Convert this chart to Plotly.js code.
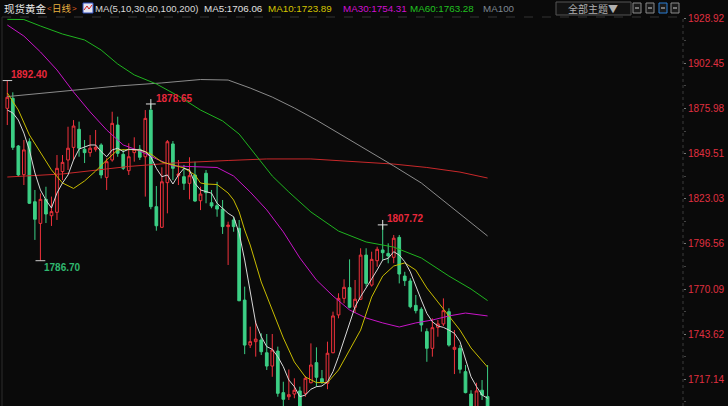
<!DOCTYPE html>
<html><head><meta charset="utf-8">
<script src="https://cdn.plot.ly/plotly-3.0.1.min.js"></script>
<style>html,body{margin:0;padding:0;background:#0a0a0a;overflow:hidden}#chart{width:728px;height:406px;}</style>
</head><body><div id="chart"></div>
<script>
// ---- OHLC (daily candles, oldest -> newest) ----
const openP  = [1876.1,1882.0,1854.0,1837.2,1856.5,1821.3,1808.6,1822.7,1813.1,1815.1,1839.0,1845.8,1853.2,1863.8,1852.1,1850.1,1852.1,1854.6,1835.6,1845.8,1866.3,1849.1,1839.5,1850.1,1852.1,1847.7,1875.1,1818.4,1806.3,1832.5,1855.2,1836.6,1836.0,1832.1,1837.0,1821.9,1838.0,1820.7,1819.0,1817.0,1806.7,1810.6,1805.7,1763.6,1737.2,1739.2,1740.2,1732.7,1724.9,1733.7,1709.3,1706.9,1708.5,1710.3,1708.9,1715.1,1726.9,1717.5,1714.8,1732.7,1754.9,1764.6,1770.9,1759.4,1764.1,1790.0,1772.4,1786.7,1793.0,1791.0,1788.7,1800.4,1777.7,1774.8,1760.5,1758.2,1745.1,1735.3,1747.6,1749.6,1756.8,1734.7,1735.3,1721.6,1708.5,1700.0,1710.7,1707.0];
const highP  = [1892.4,1885.5,1854.6,1857.5,1858.5,1828.2,1826.2,1830.1,1824.3,1848.7,1848.7,1865.3,1869.2,1868.3,1857.5,1860.4,1863.4,1855.6,1846.8,1874.1,1871.2,1852.1,1855.6,1859.1,1854.6,1875.1,1878.65,1830.5,1841.5,1857.5,1856.9,1845.8,1842.9,1847.4,1844.8,1830.1,1839.9,1828.2,1833.0,1822.3,1809.6,1812.5,1810.6,1771.5,1748.0,1751.5,1744.1,1743.7,1743.7,1736.3,1715.7,1722.9,1717.7,1712.8,1719.1,1738.2,1735.9,1722.6,1739.2,1756.8,1767.6,1775.8,1787.5,1775.4,1794.0,1794.0,1792.0,1794.9,1807.72,1796.9,1801.8,1801.8,1780.2,1776.4,1766.6,1759.4,1747.0,1752.9,1751.9,1764.6,1758.8,1746.0,1737.2,1725.5,1710.7,1715.1,1716.7,1725.5];
const lowP   = [1866.3,1851.7,1836.0,1831.1,1820.0,1798.9,1786.7,1808.8,1807.1,1810.6,1834.0,1839.9,1845.8,1847.7,1844.0,1847.7,1850.7,1835.0,1828.2,1844.8,1847.7,1839.9,1837.0,1844.8,1845.8,1824.3,1816.9,1804.3,1806.0,1814.5,1834.0,1831.1,1828.2,1822.7,1821.3,1816.4,1820.4,1817.5,1812.5,1802.4,1784.2,1803.7,1763.0,1731.9,1735.5,1730.4,1731.4,1722.6,1718.6,1706.9,1700.5,1705.0,1706.0,1695.0,1706.9,1714.8,1712.8,1714.4,1711.3,1732.4,1752.9,1761.7,1758.8,1756.2,1763.6,1771.5,1771.5,1783.2,1787.1,1785.2,1785.2,1773.4,1771.9,1758.8,1755.8,1745.1,1727.4,1730.4,1742.1,1748.4,1736.3,1720.2,1720.6,1708.9,1698.0,1698.0,1705.0,1698.0];
const closeP = [1882.6,1853.2,1837.0,1851.7,1820.4,1811.0,1822.7,1814.1,1815.5,1840.9,1844.4,1852.7,1865.7,1852.7,1850.1,1852.7,1853.2,1837.0,1844.8,1867.3,1849.7,1840.9,1847.7,1852.1,1847.4,1870.2,1818.4,1807.2,1833.0,1856.5,1840.9,1837.6,1832.1,1836.6,1821.7,1825.8,1826.6,1818.8,1817.0,1806.7,1807.6,1806.7,1763.2,1737.2,1739.2,1740.7,1733.3,1724.9,1734.3,1708.9,1705.4,1708.1,1710.7,1699.0,1717.7,1725.5,1718.3,1715.5,1732.4,1754.3,1764.6,1771.1,1759.4,1764.1,1790.0,1773.4,1787.5,1793.4,1791.4,1789.5,1799.9,1778.9,1775.0,1759.7,1757.4,1749.0,1735.3,1747.4,1749.6,1757.4,1737.2,1735.9,1723.0,1709.3,1700.0,1710.3,1707.9,1701.0];

// ---- moving averages ----
const ma5 = [1875.1,1873.4,1869.2,1861.6,1851.7,1838.2,1828.2,1822.3,1817.6,1826.4,1832.3,1837.0,1845.8,1852.2,1853.4,1854.6,1854.6,1850.7,1847.7,1851.7,1852.7,1850.7,1852.1,1851.7,1851.7,1850.7,1847.7,1840.9,1836.0,1837.0,1831.7,1837.0,1840.9,1839.9,1832.1,1828.2,1827.2,1826.3,1820.4,1817.5,1814.5,1812.5,1802.8,1787.1,1769.5,1750.2,1742.1,1736.3,1734.7,1730.4,1724.5,1716.7,1712.8,1706.9,1707.9,1711.3,1712.8,1713.2,1715.7,1721.6,1730.4,1740.2,1750.9,1759.7,1765.6,1770.5,1776.0,1781.3,1787.1,1788.1,1792.0,1790.0,1786.1,1780.2,1771.5,1763.6,1755.8,1750.9,1748.4,1747.6,1746.0,1744.1,1739.2,1728.4,1718.6,1712.8,1707.9,1706.0];
const ma10Idx = [0,2,4,6,8,10,12,14,16,18,20,22,24,26,28,30,32,34,35,36,38,40,41,42,43,44,46,48,50,52,54,56,58,60,62,64,66,68,70,72,74,76,78,80,82,84,87];
const ma10Val = [1885.1,1875.1,1860.5,1849.9,1840.0,1832.3,1829.1,1833.5,1839.3,1845.8,1851.7,1851.9,1851.7,1849.3,1844.6,1842.9,1841.1,1837.0,1832.3,1831.7,1831.4,1826.4,1822.3,1815.3,1804.7,1795.9,1774.2,1757.8,1741.4,1727.3,1718.5,1715.2,1715.2,1722.6,1734.3,1746.0,1765.4,1777.7,1783.6,1785.4,1781.2,1770.7,1762.5,1754.3,1746.0,1735.5,1724.3];
const ma30Idx = [0,3,6,9,12,15,18,21,24,27,30,35,38,41,44,47,50,53,56,59,62,65,68,71,74,77,80,83,87];
const ma30Val = [1925.0,1918.5,1909.2,1898.6,1885.7,1874.0,1863.4,1854.6,1851.1,1846.4,1842.3,1841.5,1841.4,1836.4,1827.0,1816.5,1803.6,1788.3,1775.4,1766.0,1757.8,1753.1,1750.2,1747.8,1750.2,1751.9,1754.3,1756.0,1754.3];
const ma60Idx = [0,3,6,10,14,17,20,23,27,31,35,39,42,44,46,48,51,55,60,65,70,75,80,84,87];
const ma60Val = [1928.3,1928.2,1924.4,1919.7,1916.2,1910.3,1902.1,1895.7,1890.4,1883.3,1875.1,1868.7,1861.0,1852.8,1844.6,1836.4,1827.0,1815.3,1804.1,1797.7,1794.7,1788.3,1777.7,1770.1,1763.3];
const ma100Idx = [0,10,20,28,35,40,44,48,52,56,60,65,70,75,80,87];
const ma100Val = [1883.0,1886.3,1889.2,1891.0,1893.0,1892.7,1888.0,1882.7,1876.3,1869.2,1861.6,1851.7,1842.3,1832.3,1819.4,1801.2];
const ma200Idx = [0,10,22,30,40,47,55,62,70,76,82,87];
const ma200Val = [1835.8,1837.6,1842.0,1844.0,1845.5,1846.4,1846.4,1845.2,1843.4,1841.4,1838.7,1835.2];

// ---- axis ticks and header texts ----
const yTicks = [1717.14,1743.62,1770.09,1796.56,1823.03,1849.51,1875.98,1902.45,1928.92];
const yTickText = ["1717.14","1743.62","1770.09","1796.56","1823.03","1849.51","1875.98","1902.45","1928.92"];
const maLegend = ["MA5:1706.06","MA10:1723.89","MA30:1754.31","MA60:1763.28","MA100"];
const extremeIdx = {hi1:0, hi2:26, hi3:68, lo1:6};

const xs = openP.map((_, i) => i);
const W = 728, H = 406, ML = 2, MR = 45, MT = 16, MB = 0;
const PW = W - ML - MR, PH = H - MT - MB;
const px = x => (x - ML) / PW;
const py = y => (H - MB - y) / PH;

const RED = '#f0323c', GREEN = '#3ccf85', BG = '#0a0a0a';
const FONT = 'Liberation Sans, Arial, sans-serif';
const CJK = 'Noto Sans CJK SC, sans-serif';

function maTrace(xv, yv, color) {
  return {type:'scatter', mode:'lines', x:xv, y:yv, line:{color:color, width:1}, hoverinfo:'skip'};
}

const traces = [
  maTrace(ma200Idx, ma200Val, '#c8282a'),
  maTrace(ma100Idx, ma100Val, '#8a8a8a'),
  maTrace(ma60Idx, ma60Val, '#1fb41f'),
  maTrace(ma30Idx, ma30Val, '#c814c8'),
  {
    type:'candlestick', x:xs, open:openP, high:highP, low:lowP, close:closeP,
    increasing:{line:{color:RED, width:1}, fillcolor:BG},
    decreasing:{line:{color:GREEN, width:1}, fillcolor:GREEN},
    whiskerwidth:0, hoverinfo:'skip'
  },
  maTrace(ma10Idx, ma10Val, '#c8bc00'),
  {type:'scatter', mode:'lines', x:xs, y:ma5, line:{color:'#d8d8d8', width:1}, hoverinfo:'skip'},
  {type:'scatter', mode:'markers',
   x:[extremeIdx.hi1, extremeIdx.lo1], y:[highP[extremeIdx.hi1], lowP[extremeIdx.lo1]],
   marker:{symbol:'line-ew', size:7, line:{color:'#cfcfcf', width:1}}, hoverinfo:'skip'},
  {type:'scatter', mode:'markers',
   x:[extremeIdx.hi2, extremeIdx.hi3], y:[highP[extremeIdx.hi2], highP[extremeIdx.hi3]],
   marker:{symbol:'cross-thin', size:7, line:{color:'#e0e0e0', width:1}}, hoverinfo:'skip'}
];

const ann = [];
function lbl(i, val, color, xshift, yshift) {
  ann.push({x:i, y:val, xref:'x', yref:'y', text:val.toFixed(2), showarrow:false,
    xanchor:'left', yanchor:'middle', xshift:xshift, yshift:yshift,
    font:{family:FONT, size:10, color:color, weight:'bold'}});
}
lbl(extremeIdx.hi1, highP[extremeIdx.hi1], '#e8283c', 2, 6);
lbl(extremeIdx.hi2, highP[extremeIdx.hi2], '#e8283c', 3, 5);
lbl(extremeIdx.hi3, highP[extremeIdx.hi3], '#e8283c', 2, 6);
lbl(extremeIdx.lo1, lowP[extremeIdx.lo1], '#30b870', 2, -7);

function htext(x, text, color, font, size) {
  ann.push({x:px(x), y:py(8), xref:'paper', yref:'paper', text:text, showarrow:false,
    xanchor:'left', yanchor:'middle', font:{family:font||FONT, size:size||10, color:color}, borderpad:0});
}
htext(3, '现货黄金', '#e6e6e6', CJK, 10.5);
htext(45.5, '&lt;', '#e06020', FONT, 8);
htext(51, '日线', '#e8b040', CJK, 9.5);
htext(71, '&gt;', '#e06020', FONT, 8);
htext(94, 'MA(5,10,30,60,100,200)', '#d8d8d8', FONT, 9.6);
htext(203, maLegend[0], '#e0e0e0', FONT, 9.8);
htext(267, maLegend[1], '#d4c400', FONT, 9.8);
htext(342, maLegend[2], '#d010d0', FONT, 9.8);
htext(409, maLegend[3], '#20c020', FONT, 9.8);
htext(482, maLegend[4], '#7d8690', FONT, 9.8);
ann.push({x:px(593), y:py(8), xref:'paper', yref:'paper', text:'全部主题▼', showarrow:false,
  xanchor:'center', yanchor:'middle', font:{family:CJK, size:10, color:'#b0b0b0'}});

const shapes = [
  {type:'line', xref:'paper', yref:'paper', x0:0, x1:1, y0:py(17), y1:py(17), line:{color:'#333', width:1, dash:'dash'}},
  {type:'line', xref:'paper', yref:'paper', x0:1, x1:1, y0:0, y1:1, line:{color:'#3a3a3a', width:1, dash:'dot'}},
  {type:'line', xref:'paper', yref:'paper', x0:0, x1:0, y0:0, y1:py(17), line:{color:'#2c2c2c', width:1}},
  {type:'rect', xref:'paper', yref:'paper', x0:px(556), x1:px(631), y0:py(15), y1:py(2), line:{color:'#555', width:1}, fillcolor:'#121212'},
  {type:'rect', xref:'paper', yref:'paper', x0:px(83), x1:px(93), y0:py(13), y1:py(3), line:{color:'#3050c0', width:1}, fillcolor:'#e4e4f0'},
  {type:'path', xref:'paper', yref:'paper', path:`M ${px(84)} ${py(10)} L ${px(87)} ${py(6)} L ${px(89)} ${py(9)} L ${px(92)} ${py(5)}`, line:{color:'#d02020', width:1}}
];
[[633,'#8a8a8a'],[646,'#8a8a8a'],[659,'#2a7fd4'],[671,'#8a8a8a']].forEach(([x,c]) => {
  shapes.push({type:'rect', xref:'paper', yref:'paper', x0:px(x), x1:px(x+8), y0:py(13), y1:py(3), line:{color:c, width:1}, fillcolor:'#1a1a1a'});
  shapes.push({type:'line', xref:'paper', yref:'paper', x0:px(x+2), x1:px(x+6), y0:py(8), y1:py(8), line:{color:'#cfcfcf', width:1}});
});

const layout = {
  width:W, height:H, margin:{l:ML, r:MR, t:MT, b:MB},
  paper_bgcolor:BG, plot_bgcolor:BG, showlegend:false,
  xaxis:{range:[-0.96, 122.4], showgrid:false, zeroline:false, showticklabels:false, ticks:'', showline:false,
         rangeslider:{visible:false}, fixedrange:true},
  yaxis:{side:'right', range:[1701.46, 1930.27], tickmode:'array', tickvals:yTicks, ticktext:yTickText,
         tickfont:{family:FONT, size:10, color:'#e03040'}, ticks:'outside', ticklen:2, tickcolor:'#777',
         showgrid:false, zeroline:false, showline:false, fixedrange:true,
         minor:{tickmode:'linear', tick0:1703.905, dtick:13.236, ticks:'outside', ticklen:2, tickcolor:'#444', showgrid:false}},
  annotations:ann, shapes:shapes
};
Plotly.newPlot('chart', traces, layout, {displayModeBar:false, staticPlot:true});
</script>
</body></html>
